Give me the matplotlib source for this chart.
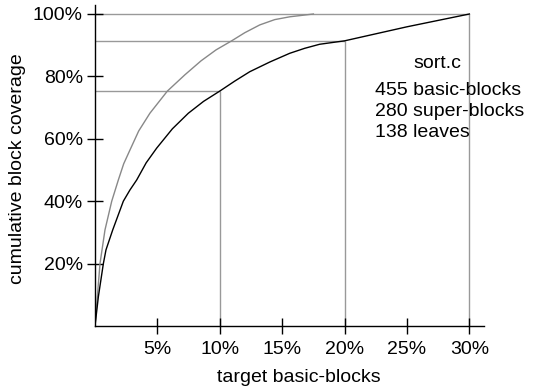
import numpy as np
import matplotlib
matplotlib.use('Agg')
from matplotlib import pyplot as plt

# black curve: basic-blocks coverage vs. target basic-blocks (%)
bb_x = [0, 0.27, 0.67, 0.88, 1.42, 2.27, 2.8, 3.34, 4.1, 4.94, 6.2, 7.48, 8.7, 10,
        11.2, 12.4, 14.0, 15.6, 16.8, 18, 20, 25, 30]
bb_y = [0, 9.4, 20, 24.4, 30.8, 40, 43.6, 46.8, 52.3, 57, 63.2, 68.2, 72.0, 75.3,
        78.5, 81.5, 84.6, 87.4, 89.0, 90.3, 91.4, 95.9, 100]

# grey curve
sb_x = [0, 0.2, 0.4, 0.8, 1.34, 1.87, 2.3, 2.8, 3.5, 4.4, 5.8, 7.2, 8.5, 9.7,
        10.95, 12.0, 13.2, 14.4, 15.6, 17.5]
sb_y = [0, 10, 20, 30.8, 40, 46.8, 52.0, 56.4, 62.5, 68.2, 75.3, 80.5, 85, 88.5,
        91.4, 94.0, 96.5, 98.2, 99.1, 100]

marks = [10, 20, 30]                       # reference drop lines
xticks = [5, 10, 15, 20, 25, 30]
yticks = [20, 40, 60, 80, 100]
title = 'sort.c'
info = ['455 basic-blocks', '280 super-blocks', '138 leaves']

plt.rcParams['font.family'] = ['Liberation Sans', 'DejaVu Sans']
fs = 14

fig = plt.figure(figsize=(5.38, 3.88), dpi=100)
W, H = 538, 388
x0, x1, y0, y1 = 95, 484, 326, 5          # axes box in pixels
ax = fig.add_axes([x0 / W, (H - y0) / H, (x1 - x0) / W, (y0 - y1) / H])
ax.set_xlim(0, (x1 - x0) / 12.48)
ax.set_ylim(0, (y0 - y1) / 3.12)

grey = '#999999'
for m in marks:
    v = np.interp(m, bb_x, bb_y)
    ax.plot([0, m], [v, v], color=grey, lw=1, solid_capstyle='butt', zorder=1)
    ax.plot([m, m], [0, v], color=grey, lw=1, solid_capstyle='butt', zorder=1)

ax.plot(sb_x, sb_y, color='#888888', lw=1, zorder=2)
ax.plot(bb_x, bb_y, color='black', lw=1, zorder=3)

ax.spines['top'].set_visible(False)
ax.spines['right'].set_visible(False)
ax.spines['left'].set_linewidth(1)
ax.spines['bottom'].set_linewidth(1)

ax.set_xticks(xticks)
ax.set_xticklabels([f'{t}%' for t in xticks], fontsize=fs)
ax.set_yticks(yticks)
ax.set_yticklabels([f'{t}%' for t in yticks], fontsize=fs)
ax.tick_params(direction='inout', length=11.5, width=1)
ax.tick_params(axis='x', pad=5)
ax.tick_params(axis='y', pad=3)

ax.set_xlabel('target basic-blocks', fontsize=fs)
ax.xaxis.set_label_coords((299 - x0) / (x1 - x0), -0.135)
ax.set_ylabel('cumulative block coverage', fontsize=fs)
ax.yaxis.set_label_coords(-0.178, 0.49)

ax.text(0.880, 0.803, title, transform=ax.transAxes, ha='center', va='baseline', fontsize=fs)
for i, s in enumerate(info):
    ax.text(0.720, 0.720 - i * 0.065, s, transform=ax.transAxes, ha='left', va='baseline', fontsize=fs)

fig.savefig('out.png', dpi=100)
